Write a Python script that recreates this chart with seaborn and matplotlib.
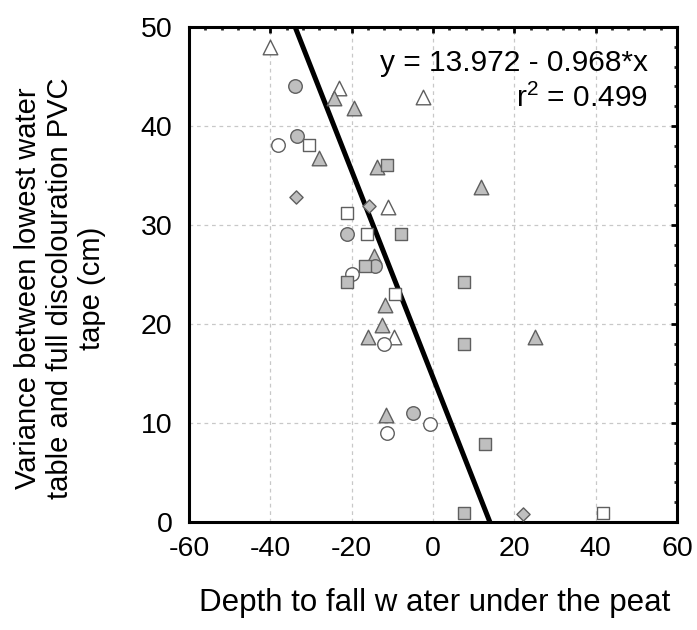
import numpy as np
import pandas as pd
import matplotlib
matplotlib.use("Agg")
import matplotlib.pyplot as plt
import seaborn as sns
from matplotlib.ticker import MultipleLocator

# ---- data ----
open_tri_x = [-40.0, -23.0, -2.5, -11.0, -9.5]
open_tri_y = [48.0, 43.8, 42.9, 31.8, 18.7]
grey_tri_x = [-24.3, -19.4, -28.0, -13.8, -14.5, -11.8, -12.5, -15.9, -11.6, 11.7, 25.1]
grey_tri_y = [42.8, 41.8, 36.8, 35.9, 26.9, 21.9, 19.9, 18.7, 10.8, 33.8, 18.7]
grey_circ_x = [-33.9, -33.4, -21.2, -14.3, -5.0]
grey_circ_y = [44.0, 39.0, 29.1, 25.9, 11.0]
open_circ_x = [-38.2, -19.8, -12.0, -11.3, -0.7]
open_circ_y = [38.1, 25.1, 18.0, 9.0, 9.9]
open_sq_x = [-30.4, -21.2, -16.3, -9.3, 41.7]
open_sq_y = [38.1, 31.2, 29.1, 23.0, 0.9]
grey_sq_x = [-11.2, -7.8, -16.7, -21.2, 7.7, 7.7, 12.8, 7.7]
grey_sq_y = [36.1, 29.1, 25.9, 24.2, 24.2, 18.0, 7.9, 0.9]
grey_dia_x = [-33.7, -15.7, 22.2]
grey_dia_y = [32.8, 31.9, 0.8]

fit_intercept = 14.6
fit_slope = -1.044
eq_label = "y = 13.972 - 0.968*x"
r2_label = "r$^{2}$ = 0.499"

x_ticks = [-60, -40, -20, 0, 20, 40, 60]
y_ticks = [0, 10, 20, 30, 40, 50]
x_label = "Depth to fall w ater under the peat"
y_label = "Variance between lowest water\ntable and full discolouration PVC\ntape (cm)"

groups = [
    ("open triangle", open_tri_x, open_tri_y, "^", "white", 110),
    ("grey triangle", grey_tri_x, grey_tri_y, "^", "#bfbfbf", 110),
    ("grey circle", grey_circ_x, grey_circ_y, "o", "#bfbfbf", 95),
    ("open circle", open_circ_x, open_circ_y, "o", "white", 95),
    ("open square", open_sq_x, open_sq_y, "s", "white", 78),
    ("grey square", grey_sq_x, grey_sq_y, "s", "#bfbfbf", 78),
    ("grey diamond", grey_dia_x, grey_dia_y, "D", "#bfbfbf", 45),
]

sns.set_style("white")
plt.rcParams["font.family"] = ["Liberation Sans", "DejaVu Sans"]
plt.rcParams["mathtext.fontset"] = "custom"
plt.rcParams["mathtext.rm"] = "Liberation Sans"
plt.rcParams["mathtext.default"] = "regular"
plt.rcParams["text.color"] = "black"
plt.rcParams["axes.labelcolor"] = "black"

fig = plt.figure(figsize=(6.97, 6.30), dpi=100)
ax = fig.add_axes([189 / 697, 1 - 522 / 630, (677 - 189) / 697, (522 - 27) / 630])

ax.set_xlim(-60, 60)
ax.set_ylim(0, 50)
ax.grid(True, color="#c8c8c8", linestyle=(0, (3, 3)), linewidth=0.9)
ax.set_axisbelow(True)

ax.axline((0, fit_intercept), slope=fit_slope, color="black", lw=3.6, zorder=2)

for name, xs, ys, mk, fc, s in groups:
    df = pd.DataFrame({"x": xs, "y": ys})
    sns.scatterplot(data=df, x="x", y="y", marker=mk, color=fc, s=s,
                    edgecolor="#5f5f5f", linewidth=1.0, ax=ax, zorder=3,
                    clip_on=False)

ax.set_xticks(x_ticks)
ax.set_yticks(y_ticks)
ax.set_xticklabels([str(v) for v in x_ticks])
ax.set_yticklabels([str(v) for v in y_ticks])
ax.xaxis.set_minor_locator(MultipleLocator(4))
ax.yaxis.set_minor_locator(MultipleLocator(2))
ax.tick_params(which="major", direction="in", length=4, width=2, top=True, right=True,
               labelsize=20.5, colors="black")
ax.tick_params(which="minor", direction="in", length=2.5, width=2, top=True, right=True)
ax.tick_params(axis="x", which="major", pad=10)
ax.tick_params(axis="y", which="major", pad=12)
for sp in ax.spines.values():
    sp.set_linewidth(2.2)
    sp.set_color("black")

ax.set_xlabel("")
ax.set_ylabel("")

ax.text((648 - 189) / 488, 1 - (63 - 27) / 495, eq_label, transform=ax.transAxes,
        ha="right", va="center", fontsize=21.5)
ax.text((648 - 189) / 488, 1 - (98 - 27) / 495, r2_label, transform=ax.transAxes,
        ha="right", va="center", fontsize=21.5)

fig.text(435 / 697, 1 - 603 / 630, x_label, ha="center", va="center", fontsize=22.5)
fig.text(60 / 697, 1 - 288 / 630, y_label, ha="center", va="center", rotation=90,
         fontsize=21, multialignment="center", linespacing=1.2)

fig.savefig("out.png", dpi=100)
